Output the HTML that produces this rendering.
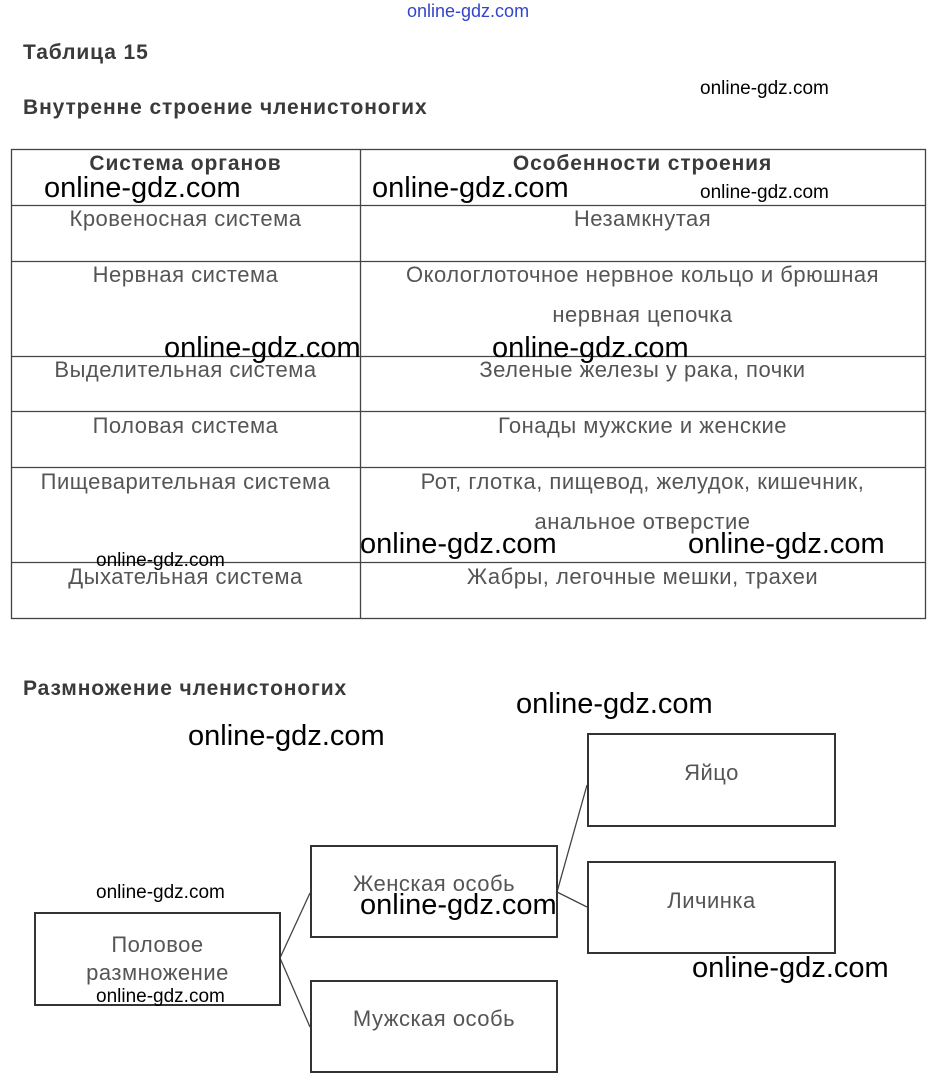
<!DOCTYPE html>
<html><head><meta charset="utf-8"><style>
body{margin:0;width:935px;height:1091px;background:#fff;position:relative;overflow:hidden;font-family:"Liberation Sans",sans-serif;}
.a{position:absolute;white-space:nowrap}
.t{color:#3a3a3a;font-weight:bold;font-size:21px;letter-spacing:0.9px}
.c{position:absolute;color:#555;font-size:22px;letter-spacing:0.5px;text-align:center;line-height:40px;white-space:nowrap}
.h{position:absolute;color:#3a3a3a;font-weight:bold;font-size:21px;letter-spacing:0.9px;text-align:center}
.w{position:absolute;color:#000;font-size:29px;white-space:nowrap;line-height:1}
.ws{position:absolute;color:#000;font-size:19px;white-space:nowrap;line-height:1}
.b{position:absolute;border:2px solid #333;box-sizing:border-box;color:#555;font-size:22px;letter-spacing:0.5px;text-align:center;display:flex;align-items:center;justify-content:center;line-height:28px}
</style></head><body>
<div class="a" style="left:407px;top:1px;color:#3344cc;font-size:18px">online-gdz.com</div>
<div class="a t" style="left:23px;top:41px">Таблица 15</div>
<div class="a t" style="left:23px;top:96px">Внутренне строение членистоногих</div>
<div class="ws" style="left:700px;top:79px">online-gdz.com</div>

<svg class="a" style="left:0;top:0" width="935" height="1091">
<g stroke="#444" stroke-width="1.3" fill="none">
<rect x="11.5" y="149.5" width="914" height="469"/>
<line x1="360.5" y1="149" x2="360.5" y2="619"/>
<line x1="11" y1="205.5" x2="926" y2="205.5"/>
<line x1="11" y1="261.5" x2="926" y2="261.5"/>
<line x1="11" y1="356.5" x2="926" y2="356.5"/>
<line x1="11" y1="411.5" x2="926" y2="411.5"/>
<line x1="11" y1="467.5" x2="926" y2="467.5"/>
<line x1="11" y1="562.5" x2="926" y2="562.5"/>
<line x1="280" y1="958" x2="310" y2="893"/>
<line x1="280" y1="958" x2="310" y2="1027"/>
<line x1="557" y1="892" x2="587" y2="785"/>
<line x1="557" y1="892" x2="587" y2="907"/>
</g></svg>

<div class="h" style="left:11px;width:349px;top:152px">Система органов</div>
<div class="h" style="left:360px;width:565px;top:152px">Особенности строения</div>

<div class="c" style="left:11px;width:349px;top:199px">Кровеносная система</div>
<div class="c" style="left:360px;width:565px;top:199px">Незамкнутая</div>
<div class="c" style="left:11px;width:349px;top:255px">Нервная система</div>
<div class="c" style="left:360px;width:565px;top:255px">Окологлоточное нервное кольцо и брюшная<br>нервная цепочка</div>
<div class="c" style="left:11px;width:349px;top:350px">Выделительная система</div>
<div class="c" style="left:360px;width:565px;top:350px">Зеленые железы у рака, почки</div>
<div class="c" style="left:11px;width:349px;top:406px">Половая система</div>
<div class="c" style="left:360px;width:565px;top:406px">Гонады мужские и женские</div>
<div class="c" style="left:11px;width:349px;top:462px">Пищеварительная система</div>
<div class="c" style="left:360px;width:565px;top:462px">Рот, глотка, пищевод, желудок, кишечник,<br>анальное отверстие</div>
<div class="c" style="left:11px;width:349px;top:557px">Дыхательная система</div>
<div class="c" style="left:360px;width:565px;top:557px">Жабры, легочные мешки, трахеи</div>

<div class="w" style="left:44px;top:174px">online-gdz.com</div>
<div class="w" style="left:372px;top:174px">online-gdz.com</div>
<div class="ws" style="left:700px;top:183px">online-gdz.com</div>
<div class="w" style="left:164px;top:334px">online-gdz.com</div>
<div class="w" style="left:492px;top:334px">online-gdz.com</div>
<div class="w" style="left:360px;top:530px">online-gdz.com</div>
<div class="w" style="left:688px;top:530px">online-gdz.com</div>
<div class="ws" style="left:96px;top:551px">online-gdz.com</div>

<div class="a t" style="left:23px;top:677px">Размножение членистоногих</div>
<div class="w" style="left:516px;top:690px">online-gdz.com</div>
<div class="w" style="left:188px;top:722px">online-gdz.com</div>

<div class="b" style="left:587px;top:733px;width:249px;height:94px;padding-bottom:14px">Яйцо</div>
<div class="b" style="left:587px;top:861px;width:249px;height:93px;padding-bottom:14px">Личинка</div>
<div class="b" style="left:310px;top:845px;width:248px;height:93px;padding-bottom:16px">Женская особь</div>
<div class="b" style="left:310px;top:980px;width:248px;height:93px;padding-bottom:16px">Мужская особь</div>
<div class="b" style="left:34px;top:912px;width:247px;height:94px">Половое<br>размножение</div>

<div class="ws" style="left:96px;top:883px">online-gdz.com</div>
<div class="w" style="left:360px;top:891px">online-gdz.com</div>
<div class="w" style="left:692px;top:954px">online-gdz.com</div>
<div class="ws" style="left:96px;top:987px">online-gdz.com</div>
</body></html>
